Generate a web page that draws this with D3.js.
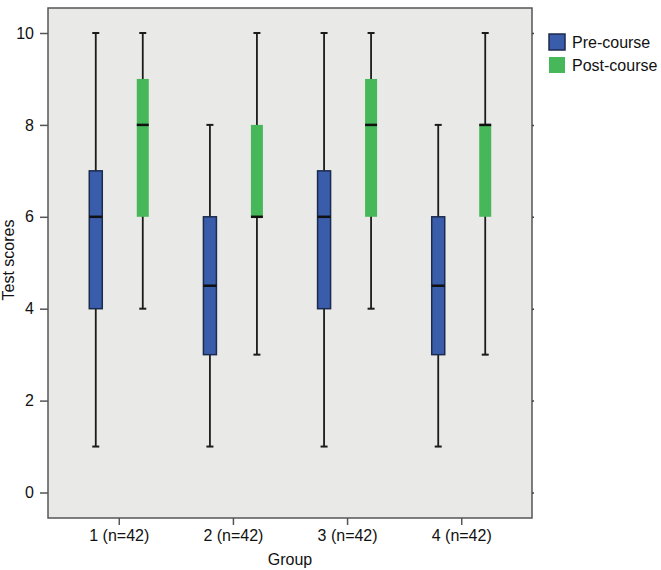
<!DOCTYPE html>
<html>
<head>
<meta charset="utf-8">
<title>Test scores by group</title>
<script src="https://d3js.org/d3.v7.min.js"></script>
<style>
  body { margin: 0; background: #fff; }
  text { font-family: "Liberation Sans", Arial, sans-serif; fill: #111; }
</style>
</head>
<body>
<svg id="chart"></svg>
<script>
// groups on the x axis
var groups = ["1 (n=42)", "2 (n=42)", "3 (n=42)", "4 (n=42)"];
var series = ["Pre-course", "Post-course"];

// five number summaries [min, q1, median, q3, max]
var preCourse = [
  [1, 4, 6, 7, 10],
  [1, 3, 4.5, 6, 8],
  [1, 4, 6, 7, 10],
  [1, 3, 4.5, 6, 8]
];
var postCourse = [
  [4, 6, 8, 9, 10],
  [3, 6, 6, 8, 10],
  [4, 6, 8, 9, 10],
  [3, 6, 8, 8, 10]
];
var yTicks = [0, 2, 4, 6, 8, 10];

var width = 661, height = 570;
var plot = { left: 48, right: 532, top: 8, bottom: 518 };
var colors = { "Pre-course": "#3a5dab", "Post-course": "#47b85a" };

var svg = d3.select("#chart").attr("width", width).attr("height", height);

var x = d3.scalePoint()
  .domain(groups)
  .range([plot.left, plot.right])
  .padding(0.62);

var y = d3.scaleLinear()
  .domain([0, 10])
  .range([492.5, 33]);

// offset of each series from the group centre
var offset = d3.scalePoint().domain(series).range([-23, 24]);

// plot background
svg.append("rect")
  .attr("x", plot.left).attr("y", plot.top)
  .attr("width", plot.right - plot.left)
  .attr("height", plot.bottom - plot.top)
  .attr("fill", "#e9e9e8")
  .attr("stroke", "#555")
  .attr("stroke-width", 1.5);

// y axis
var yAxis = svg.append("g")
  .attr("transform", "translate(" + plot.left + ",0)")
  .call(d3.axisLeft(y).tickValues(yTicks).tickSize(8).tickPadding(6).tickFormat(d3.format("d")));
yAxis.select(".domain").remove();
yAxis.selectAll("line").attr("stroke", "#555").attr("stroke-width", 1.5);
yAxis.selectAll("text").style("font-size", "16px").attr("fill", "#111");

// small ticks on the right border
svg.append("g")
  .attr("transform", "translate(" + plot.right + ",0)")
  .call(d3.axisRight(y).tickValues(yTicks).tickSize(2).tickFormat(""))
  .call(function(g) {
    g.select(".domain").remove();
    g.selectAll("line").attr("stroke", "#444").attr("stroke-width", 1.5);
  });

// x axis
var xAxis = svg.append("g")
  .attr("transform", "translate(0," + plot.bottom + ")")
  .call(d3.axisBottom(x).tickSize(7).tickPadding(5));
xAxis.select(".domain").remove();
xAxis.selectAll("line").attr("stroke", "#555").attr("stroke-width", 1.5);
xAxis.selectAll("text").style("font-size", "16px").attr("fill", "#111");

// axis titles
svg.append("text")
  .attr("x", (plot.left + plot.right) / 2)
  .attr("y", 565)
  .attr("text-anchor", "middle")
  .style("font-size", "16px")
  .text("Group");

svg.append("text")
  .attr("transform", "translate(14,260) rotate(-90)")
  .attr("text-anchor", "middle")
  .style("font-size", "16px")
  .text("Test scores");

// boxes
function drawBoxes(data, name, boxW, strokeCol) {
  var g = svg.append("g").attr("class", "series");
  data.forEach(function(d, i) {
    var cx = x(groups[i]) + offset(name);
    // whisker
    g.append("line")
      .attr("x1", cx).attr("x2", cx)
      .attr("y1", y(d[0])).attr("y2", y(d[4]))
      .attr("stroke", "#1b1b1b").attr("stroke-width", 1.8);
    // caps
    [d[0], d[4]].forEach(function(v) {
      g.append("line")
        .attr("x1", cx - 3.5).attr("x2", cx + 3.5)
        .attr("y1", y(v)).attr("y2", y(v))
        .attr("stroke", "#1b1b1b").attr("stroke-width", 2);
    });
    // box
    g.append("rect")
      .attr("x", cx - boxW / 2)
      .attr("y", y(d[3]))
      .attr("width", boxW)
      .attr("height", y(d[1]) - y(d[3]))
      .attr("fill", colors[name])
      .attr("stroke", strokeCol)
      .attr("stroke-width", strokeCol === "none" ? 0 : 1.5);
    // median
    g.append("line")
      .attr("x1", cx - boxW / 2).attr("x2", cx + boxW / 2)
      .attr("y1", y(d[2])).attr("y2", y(d[2]))
      .attr("stroke", "#111").attr("stroke-width", 2.5);
  });
}
drawBoxes(preCourse, "Pre-course", 13, "#1c2a4d");
drawBoxes(postCourse, "Post-course", 12, "none");

// legend
var legend = svg.append("g").attr("transform", "translate(549,34)");
series.forEach(function(s, i) {
  var row = legend.append("g").attr("transform", "translate(0," + (i * 23) + ")");
  row.append("rect")
    .attr("width", 16).attr("height", 16)
    .attr("fill", colors[s])
    .attr("stroke", i === 0 ? "#1c2a4d" : "none")
    .attr("stroke-width", 1.5);
  row.append("text")
    .attr("x", 23).attr("y", 8)
    .attr("dy", "0.35em")
    .style("font-size", "16px")
    .text(s);
});
</script>
</body>
</html>
